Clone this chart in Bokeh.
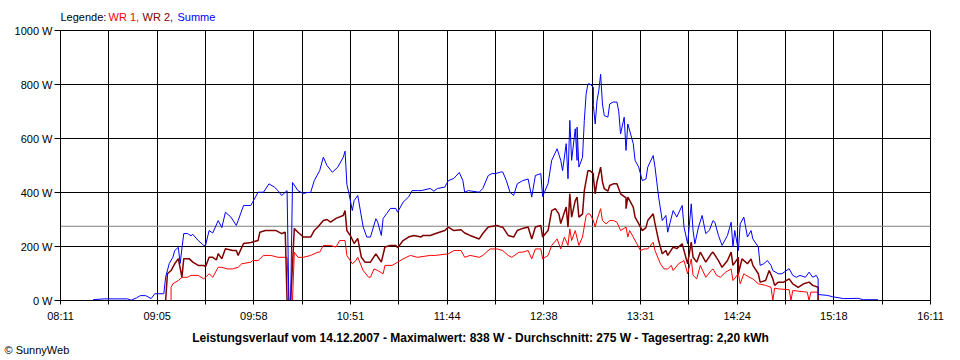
from bokeh.plotting import figure
from bokeh.layouts import column
from bokeh.models import Range1d, FixedTicker, PrintfTickFormatter, CustomJSTickFormatter, Span
from bokeh.core.properties import value
from bokeh.embed import file_html
from bokeh.resources import INLINE

# ---------------- data ----------------
x_labels = ["08:11", "09:05", "09:58", "10:51", "11:44", "12:38", "13:31", "14:24", "15:18", "16:11"]
y_ticks = [0, 200, 400, 600, 800, 1000]
durchschnitt = 275  # W, average line
titel = "Leistungsverlauf vom 14.12.2007 - Maximalwert: 838 W - Durchschnitt: 275 W - Tagesertrag: 2,20 kWh"

summe = [
    ("08:29", 3), ("08:35", 6), ("08:41", 6), ("08:48", 6), ("08:50", 1), ("08:53", 10), ("08:55", 18),
    ("08:58", 18), ("09:01", 7), ("09:03", 25), ("09:08", 25), ("09:09", 86), ("09:11", 137), ("09:13", 160),
    ("09:14", 185), ("09:16", 197), ("09:17", 137), ("09:19", 248), ("09:21", 248), ("09:23", 240),
    ("09:24", 245), ("09:27", 222), ("09:30", 204), ("09:31", 204), ("09:33", 259), ("09:35", 250),
    ("09:38", 296), ("09:40", 270), ("09:42", 327), ("09:45", 309), ("09:48", 278), ("09:49", 296),
    ("09:52", 352), ("09:56", 352), ("09:57", 364), ("10:00", 401), ("10:03", 401), ("10:06", 432),
    ("10:09", 420), ("10:11", 407), ("10:13", 389), ("10:16", 407), ("10:17", 0), ("10:18", 0),
    ("10:19", 437), ("10:22", 407), ("10:25", 396), ("10:27", 400), ("10:29", 400), ("10:31", 444),
    ("10:34", 481), ("10:36", 531), ("10:38", 500), ("10:41", 475), ("10:44", 494), ("10:47", 531),
    ("10:48", 553), ("10:49", 430), ("10:50", 401), ("10:52", 333), ("10:53", 370), ("10:55", 389),
    ("10:58", 272), ("11:00", 235), ("11:02", 235), ("11:05", 303), ("11:06", 290), ("11:08", 241),
    ("11:09", 304), ("11:11", 322), ("11:13", 341), ("11:16", 341), ("11:17", 327), ("11:20", 364),
    ("11:23", 383), ("11:25", 407), ("11:28", 407), ("11:30", 407), ("11:35", 415), ("11:37", 405),
    ("11:39", 415), ("11:43", 420), ("11:45", 444), ("11:48", 452), ("11:51", 474), ("11:53", 444),
    ("11:54", 401), ("11:56", 407), ("12:02", 401), ("12:04", 415), ("12:07", 463), ("12:09", 470),
    ("12:11", 470), ("12:14", 476), ("12:15", 476), ("12:17", 444), ("12:19", 401), ("12:21", 389),
    ("12:23", 432), ("12:26", 444), ("12:29", 450), ("12:31", 383), ("12:33", 463), ("12:36", 470),
    ("12:37", 385), ("12:40", 433), ("12:42", 519), ("12:45", 562), ("12:47", 519), ("12:48", 481),
    ("12:50", 581), ("12:51", 451), ("12:52", 667), ("12:53", 519), ("12:55", 636), ("12:56", 519),
    ("12:56", 642), ("12:57", 494), ("12:59", 530), ("13:00", 667), ("13:01", 765), ("13:02", 802),
    ("13:03", 802), ("13:05", 790), ("13:05", 722), ("13:06", 654), ("13:07", 740), ("13:08", 778),
    ("13:09", 838), ("13:10", 728), ("13:11", 685), ("13:13", 679), ("13:14", 728), ("13:16", 735),
    ("13:18", 735), ("13:19", 700), ("13:20", 617), ("13:22", 679), ("13:23", 556), ("13:24", 654),
    ("13:27", 581), ("13:28", 519), ("13:30", 494), ("13:32", 444), ("13:34", 450), ("13:35", 494),
    ("13:38", 537), ("13:39", 494), ("13:41", 383), ("13:43", 296), ("13:45", 315), ("13:46", 253),
    ("13:49", 333), ("13:51", 309), ("13:54", 352), ("13:55", 272), ("13:57", 210), ("13:59", 358),
    ("14:00", 259), ("14:01", 210), ("14:03", 272), ("14:05", 315), ("14:07", 248), ("14:09", 260),
    ("14:11", 296), ("14:12", 290), ("14:14", 241), ("14:16", 204), ("14:19", 241), ("14:21", 290),
    ("14:22", 198), ("14:23", 259), ("14:25", 185), ("14:26", 284), ("14:28", 309), ("14:30", 235),
    ("14:32", 259), ("14:33", 228), ("14:36", 198), ("14:37", 130), ("14:39", 136), ("14:41", 148),
    ("14:43", 130), ("14:44", 111), ("14:47", 99), ("14:49", 99), ("14:53", 118), ("14:55", 93),
    ("14:57", 86), ("14:59", 93), ("15:02", 86), ("15:04", 105), ("15:06", 86), ("15:08", 93),
    ("15:09", 80), ("15:09", 22), ("15:14", 19), ("15:17", 14), ("15:23", 7), ("15:31", 8),
    ("15:34", 3), ("15:42", 3),
]

wr2 = [
    ("09:09", 0), ("09:10", 99), ("09:12", 111), ("09:14", 136), ("09:16", 155), ("09:18", 86),
    ("09:19", 155), ("09:22", 155), ("09:24", 142), ("09:27", 130), ("09:30", 130), ("09:31", 125),
    ("09:33", 160), ("09:35", 160), ("09:37", 150), ("09:38", 173), ("09:40", 155), ("09:42", 192),
    ("09:46", 185), ("09:48", 185), ("09:49", 167), ("09:52", 211), ("09:56", 215), ("10:00", 222),
    ("10:01", 253), ("10:04", 259), ("10:06", 259), ("10:10", 259), ("10:13", 248), ("10:15", 253),
    ("10:16", 0), ("10:18", 0), ("10:20", 267), ("10:22", 253), ("10:25", 235), ("10:27", 235),
    ("10:29", 235), ("10:31", 259), ("10:33", 272), ("10:36", 296), ("10:38", 300), ("10:40", 290),
    ("10:43", 304), ("10:47", 315), ("10:48", 333), ("10:49", 259), ("10:51", 240), ("10:53", 211),
    ("10:55", 230), ("10:57", 160), ("10:59", 142), ("11:02", 142), ("11:05", 173), ("11:08", 142),
    ("11:10", 198), ("11:13", 204), ("11:16", 204), ("11:17", 195), ("11:20", 222), ("11:23", 235),
    ("11:26", 241), ("11:30", 235), ("11:31", 241), ("11:35", 241), ("11:38", 248), ("11:43", 259),
    ("11:45", 272), ("11:48", 259), ("11:52", 262), ("11:54", 250), ("11:57", 241), ("12:02", 228),
    ("12:04", 248), ("12:07", 272), ("12:12", 278), ("12:14", 272), ("12:15", 272), ("12:18", 241),
    ("12:21", 235), ("12:23", 259), ("12:26", 267), ("12:29", 272), ("12:31", 228), ("12:33", 272),
    ("12:36", 278), ("12:37", 235), ("12:40", 259), ("12:42", 333), ("12:44", 340), ("12:46", 320),
    ("12:47", 285), ("12:49", 327), ("12:50", 346), ("12:51", 272), ("12:52", 395), ("12:53", 309),
    ("12:55", 370), ("12:56", 383), ("12:57", 309), ("12:59", 320), ("13:00", 407), ("13:02", 481),
    ("13:03", 481), ("13:05", 470), ("13:05", 457), ("13:06", 395), ("13:07", 440), ("13:09", 494),
    ("13:10", 440), ("13:11", 414), ("13:13", 405), ("13:14", 426), ("13:16", 432), ("13:18", 432),
    ("13:20", 395), ("13:23", 380), ("13:23", 340), ("13:24", 383), ("13:27", 346), ("13:28", 309),
    ("13:30", 285), ("13:32", 259), ("13:34", 270), ("13:35", 296), ("13:38", 321), ("13:39", 285),
    ("13:41", 222), ("13:43", 173), ("13:45", 185), ("13:46", 167), ("13:49", 198), ("13:51", 192),
    ("13:54", 210), ("13:56", 160), ("13:57", 136), ("13:59", 216), ("14:00", 160), ("14:02", 142),
    ("14:04", 179), ("14:07", 142), ("14:10", 173), ("14:11", 179), ("14:14", 148), ("14:16", 123),
    ("14:19", 148), ("14:21", 179), ("14:22", 130), ("14:25", 160), ("14:25", 99), ("14:27", 154),
    ("14:30", 136), ("14:32", 154), ("14:33", 130), ("14:36", 99), ("14:37", 68), ("14:40", 74),
    ("14:42", 111), ("14:44", 80), ("14:45", 56), ("14:47", 68), ("14:50", 68), ("14:53", 80),
    ("14:55", 62), ("14:58", 49), ("15:01", 62), ("15:04", 68), ("15:06", 56), ("15:09", 49),
    ("15:09", 0),
]

wr1 = [
    ("09:12", 0), ("09:12", 49), ("09:13", 62), ("09:16", 74), ("09:18", 86), ("09:21", 86),
    ("09:23", 93), ("09:27", 93), ("09:30", 80), ("09:33", 99), ("09:35", 86), ("09:38", 123),
    ("09:40", 123), ("09:43", 117), ("09:46", 117), ("09:49", 123), ("09:51", 136), ("09:56", 142),
    ("09:57", 148), ("10:00", 148), ("10:03", 167), ("10:07", 167), ("10:11", 160), ("10:16", 160),
    ("10:17", 0), ("10:19", 0), ("10:20", 179), ("10:22", 160), ("10:25", 160), ("10:29", 167),
    ("10:33", 179), ("10:34", 179), ("10:36", 204), ("10:40", 204), ("10:43", 198), ("10:45", 222),
    ("10:48", 222), ("10:49", 167), ("10:52", 136), ("10:54", 148), ("10:55", 160), ("10:58", 111),
    ("11:01", 86), ("11:02", 86), ("11:04", 117), ("11:06", 111), ("11:09", 99), ("11:10", 130),
    ("11:14", 130), ("11:17", 142), ("11:20", 154), ("11:24", 167), ("11:28", 160), ("11:35", 167),
    ("11:38", 167), ("11:45", 173), ("11:48", 185), ("11:52", 185), ("11:54", 160), ("11:57", 167),
    ("12:02", 160), ("12:04", 167), ("12:08", 191), ("12:12", 191), ("12:15", 185), ("12:18", 167),
    ("12:20", 160), ("12:24", 179), ("12:26", 179), ("12:29", 185), ("12:31", 154), ("12:33", 191),
    ("12:36", 191), ("12:37", 154), ("12:40", 167), ("12:42", 204), ("12:45", 228), ("12:47", 191),
    ("12:49", 235), ("12:51", 204), ("12:52", 265), ("12:53", 222), ("12:55", 259), ("12:57", 204),
    ("12:59", 235), ("13:01", 315), ("13:02", 321), ("13:03", 321), ("13:05", 296), ("13:06", 272),
    ("13:07", 300), ("13:09", 340), ("13:10", 296), ("13:12", 284), ("13:14", 296), ("13:16", 296),
    ("13:18", 290), ("13:20", 259), ("13:23", 272), ("13:24", 235), ("13:25", 259), ("13:27", 235),
    ("13:29", 210), ("13:31", 185), ("13:33", 191), ("13:35", 191), ("13:38", 216), ("13:39", 185),
    ("13:42", 136), ("13:44", 117), ("13:46", 117), ("13:48", 130), ("13:49", 111), ("13:52", 136),
    ("13:55", 148), ("13:57", 99), ("13:59", 154), ("14:00", 93), ("14:02", 80), ("14:04", 130),
    ("14:07", 86), ("14:10", 111), ("14:11", 117), ("14:13", 93), ("14:15", 86), ("14:18", 105),
    ("14:21", 117), ("14:22", 74), ("14:25", 99), ("14:26", 62), ("14:28", 99), ("14:31", 86),
    ("14:33", 80), ("14:36", 62), ("14:40", 56), ("14:43", 49), ("14:44", 0), ("14:45", 46),
    ("14:47", 43), ("14:53", 40), ("14:54", 0), ("14:55", 37), ("14:59", 34), ("15:03", 31),
    ("15:04", 0), ("15:05", 31), ("15:09", 31), ("15:09", 0),
]

# ---------------- helpers ----------------
def to_min(s):
    h, m = s.split(":")
    return int(h) * 60 + int(m)

def split(series):
    return [to_min(t) for t, _ in series], [v for _, v in series]

FONT = "Liberation Sans"
W = 960
x_start, x_end = to_min(x_labels[0]), to_min(x_labels[-1])
n_int = 2 * (len(x_labels) - 1)
step = (x_end - x_start) / n_int
x_ticks = [x_start + i * step for i in range(n_int + 1)]


def text_strip(height):
    f = figure(width=W, height=height, output_backend="svg", toolbar_location=None,
               x_range=Range1d(0, W), y_range=Range1d(height, 0),
               x_axis_type=None, y_axis_type=None,
               min_border_left=0, min_border_right=0, min_border_top=0, min_border_bottom=0)
    f.frame_align = False
    f.outline_line_color = None
    f.grid.visible = False
    return f

# ---------------- top strip: legend ----------------
top = text_strip(24)
legend_parts = [("Legende:", "black", 60), ("WR 1,", "#FF0000", 108), ("WR 2,", "#800000", 142),
                ("Summe", "#0000FF", 177)]
for txt, col, xpos in legend_parts:
    top.text(x=[xpos], y=[16.5], text=[txt], text_color=col, text_font=value(FONT),
             text_font_size="11px", text_baseline="middle", text_align="left")

# ---------------- main chart ----------------
p = figure(width=W, height=306, output_backend="svg", toolbar_location=None,
           x_range=Range1d(x_start, x_end), y_range=Range1d(y_ticks[0], y_ticks[-1]),
           min_border_left=60, min_border_right=30, min_border_top=6, min_border_bottom=30,
           background_fill_color="white", border_fill_color="white")
p.frame_align = False
p.outline_line_color = "black"
p.outline_line_width = 1

p.xaxis.ticker = FixedTicker(ticks=x_ticks)
p.xaxis.formatter = CustomJSTickFormatter(args=dict(labels=x_labels, start=x_start, step=step), code="""
    const i = Math.round((tick - start) / step);
    return (i % 2 == 0) ? labels[i / 2] : "";
""")
p.yaxis.ticker = FixedTicker(ticks=y_ticks)
p.yaxis.formatter = PrintfTickFormatter(format="%d W")
for ax in (p.xaxis, p.yaxis):
    ax.axis_line_color = "black"
    ax.major_tick_line_color = "black"
    ax.minor_tick_line_color = None
    ax.major_tick_in = 0
    ax.major_label_text_font = FONT
    ax.major_label_text_font_size = "11px"
    ax.major_label_text_color = "black"
p.xaxis.major_tick_out = 4
p.xaxis.major_label_standoff = 5
p.yaxis.major_tick_out = 6
p.yaxis.major_label_standoff = 2

p.grid.grid_line_color = "black"
p.grid.grid_line_width = 1
p.grid.grid_line_alpha = 1

p.add_layout(Span(location=durchschnitt, dimension="width", line_color="#808080",
                  line_width=1, level="underlay"))

for data, col, lw in ((wr1, "#FF0000", 1), (wr2, "#800000", 1.5), (summe, "#0000FF", 1)):
    xs, ys = split(data)
    p.line(xs, ys, line_color=col, line_width=lw)

# ---------------- bottom strip: title + copyright ----------------
bottom = text_strip(30)
bottom.text(x=[480], y=[7.5], text=[titel], text_color="black", text_font=value(FONT),
            text_font_size="12px", text_font_style="bold", text_baseline="middle", text_align="center")
bottom.text(x=[4], y=[19.5], text=["\u00a9 SunnyWeb"], text_color="black", text_font=value(FONT),
            text_font_size="11px", text_baseline="middle", text_align="left")

layout = column(top, p, bottom, spacing=0)
open("out.html", "w").write(file_html(layout, INLINE))
